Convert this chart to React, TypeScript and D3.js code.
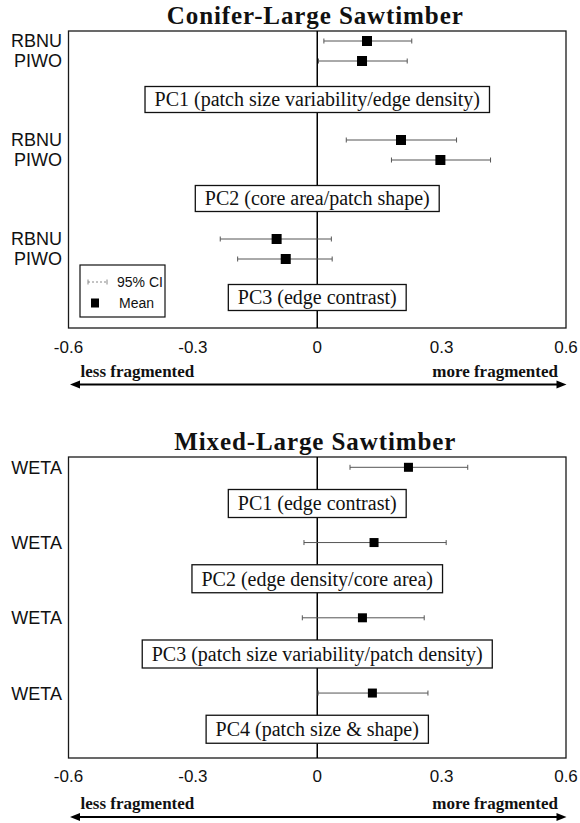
import React, { useEffect, useRef } from "react";
import * as d3 from "d3";

// ---------- data ----------
const tickValues = [-0.6, -0.3, 0, 0.3, 0.6];
const tickLabels = ["-0.6", "-0.3", "0", "0.3", "0.6"];

const coniferTitle = "Conifer-Large Sawtimber";
const coniferComponents = [
  "PC1 (patch size variability/edge density)",
  "PC2 (core area/patch shape)",
  "PC3 (edge contrast)",
];
const coniferSpecies = ["RBNU", "PIWO"];
// [component][species]
const coniferMean = [
  [0.12, 0.108],
  [0.202, 0.297],
  [-0.098, -0.076],
];
const coniferLow = [
  [0.016, 0.003],
  [0.07, 0.179],
  [-0.234, -0.192],
];
const coniferHigh = [
  [0.228, 0.217],
  [0.336, 0.418],
  [0.034, 0.036],
];

const mixedTitle = "Mixed-Large Sawtimber";
const mixedComponents = [
  "PC1 (edge contrast)",
  "PC2 (edge density/core area)",
  "PC3 (patch size variability/patch density)",
  "PC4 (patch size & shape)",
];
const mixedSpecies = ["WETA"];
const mixedMean = [[0.22], [0.137], [0.109], [0.133]];
const mixedLow = [[0.079], [-0.032], [-0.036], [0.002]];
const mixedHigh = [[0.363], [0.311], [0.258], [0.267]];

const legendLabels = ["95% CI", "Mean"];
const lessLabel = "less fragmented";
const moreLabel = "more fragmented";

const SERIF = "'Liberation Serif', 'Times New Roman', Times, serif";
const SANS = "'Liberation Sans', Arial, Helvetica, sans-serif";

type Panel = {
  title: string;
  components: string[];
  species: string[];
  mean: number[][];
  low: number[][];
  high: number[][];
  y0: number;
  y1: number;
  rowTop: number;
  rowStep: number;
  boxOffset: number;
  boxH: number;
  markSize: number;
  tickDy: number;
  arrowDy: number;
  legend: boolean;
};

export default function App() {
  const ref = useRef<SVGSVGElement | null>(null);

  useEffect(() => {
    const svg = d3.select(ref.current);
    svg.selectAll("*").remove();

    const x = d3.scaleLinear().domain([-0.6, 0.6]).range([68.5, 566]);

    const panels: Panel[] = [
      {
        title: coniferTitle,
        components: coniferComponents,
        species: coniferSpecies,
        mean: coniferMean,
        low: coniferLow,
        high: coniferHigh,
        y0: 31,
        y1: 328,
        rowTop: 10,
        rowStep: 20,
        boxOffset: 68.5,
        boxH: 26,
        markSize: 10,
        tickDy: 25,
        arrowDy: 56.5,
        legend: true,
      },
      {
        title: mixedTitle,
        components: mixedComponents,
        species: mixedSpecies,
        mean: mixedMean,
        low: mixedLow,
        high: mixedHigh,
        y0: 457,
        y1: 758,
        rowTop: 10.3,
        rowStep: 20,
        boxOffset: 46.5,
        boxH: 28,
        markSize: 9,
        tickDy: 24,
        arrowDy: 59,
        legend: false,
      },
    ];

    panels.forEach((p) => {
      const g = svg.append("g");
      const band = d3
        .scaleBand<string>()
        .domain(p.components)
        .range([p.y0, p.y1])
        .paddingInner(0)
        .paddingOuter(0);

      // title
      g.append("text")
        .attr("x", x(0) - 2)
        .attr("y", p.y0 - 7)
        .attr("text-anchor", "middle")
        .attr("font-family", SERIF)
        .attr("font-weight", "bold")
        .attr("font-size", 25)
        .attr("letter-spacing", 0.9)
        .attr("fill", "#111")
        .text(p.title);

      // frame
      g.append("rect")
        .attr("x", x(-0.6))
        .attr("y", p.y0)
        .attr("width", x(0.6) - x(-0.6))
        .attr("height", p.y1 - p.y0)
        .attr("fill", "none")
        .attr("stroke", "#1a1a1a")
        .attr("stroke-width", 1.3);

      // zero line
      g.append("line")
        .attr("x1", x(0))
        .attr("x2", x(0))
        .attr("y1", p.y0)
        .attr("y2", p.y1)
        .attr("stroke", "#000")
        .attr("stroke-width", 1.5);

      // component boxes
      p.components.forEach((c) => {
        const cy = (band(c) as number) + p.boxOffset;
        const bg = g.append("g");
        const rect = bg.append("rect");
        const t = bg
          .append("text")
          .attr("x", x(0))
          .attr("y", cy)
          .attr("dy", "0.34em")
          .attr("text-anchor", "middle")
          .attr("font-family", SERIF)
          .attr("font-size", 20)
          .attr("fill", "#111")
          .text(c);
        const w = (t.node() as SVGTextElement).getComputedTextLength() + 19;
        rect
          .attr("x", x(0) - w / 2)
          .attr("y", cy - p.boxH / 2)
          .attr("width", w)
          .attr("height", p.boxH)
          .attr("fill", "#fff")
          .attr("stroke", "#111")
          .attr("stroke-width", 1.3);
      });

      // species rows
      p.components.forEach((c, ci) => {
        p.species.forEach((s, si) => {
          const y = (band(c) as number) + p.rowTop + si * p.rowStep;
          g.append("text")
            .attr("x", 62)
            .attr("y", y)
            .attr("dy", "0.36em")
            .attr("text-anchor", "end")
            .attr("font-family", SANS)
            .attr("font-size", 18)
            .attr("fill", "#111")
            .text(s);
          const lo = p.low[ci][si];
          const hi = p.high[ci][si];
          const m = p.mean[ci][si];
          g.append("line")
            .attr("x1", x(lo))
            .attr("x2", x(hi))
            .attr("y1", y)
            .attr("y2", y)
            .attr("stroke", "#555")
            .attr("stroke-width", 1);
          [lo, hi].forEach((v) => {
            g.append("line")
              .attr("x1", x(v))
              .attr("x2", x(v))
              .attr("y1", y - 2.5)
              .attr("y2", y + 2.5)
              .attr("stroke", "#555")
              .attr("stroke-width", 1);
          });
          g.append("rect")
            .attr("x", x(m) - p.markSize / 2)
            .attr("y", y - p.markSize / 2)
            .attr("width", p.markSize)
            .attr("height", p.markSize)
            .attr("fill", "#000");
        });
      });

      // tick labels
      tickValues.forEach((v, i) => {
        g.append("text")
          .attr("x", x(v))
          .attr("y", p.y1 + p.tickDy)
          .attr("text-anchor", "middle")
          .attr("font-family", SANS)
          .attr("font-size", 17)
          .attr("fill", "#111")
          .text(tickLabels[i]);
      });

      // arrow
      const ay = p.y1 + p.arrowDy;
      const ax0 = x(-0.6) + 1.5;
      const ax1 = x(0.6) + 0.5;
      g.append("line")
        .attr("x1", ax0 + 6)
        .attr("x2", ax1 - 6)
        .attr("y1", ay)
        .attr("y2", ay)
        .attr("stroke", "#000")
        .attr("stroke-width", 2);
      g.append("path")
        .attr("d", `M${ax0},${ay} L${ax0 + 10},${ay - 4} L${ax0 + 10},${ay + 4} Z`)
        .attr("fill", "#000");
      g.append("path")
        .attr("d", `M${ax1},${ay} L${ax1 - 10},${ay - 4} L${ax1 - 10},${ay + 4} Z`)
        .attr("fill", "#000");
      g.append("text")
        .attr("x", x(-0.6) + 12)
        .attr("y", ay - 8)
        .attr("font-family", SERIF)
        .attr("font-weight", "bold")
        .attr("font-size", 17)
        .attr("fill", "#111")
        .text(lessLabel);
      g.append("text")
        .attr("x", x(0.6) - 8)
        .attr("y", ay - 8)
        .attr("text-anchor", "end")
        .attr("font-family", SERIF)
        .attr("font-weight", "bold")
        .attr("font-size", 17)
        .attr("fill", "#111")
        .text(moreLabel);

      // legend
      if (p.legend) {
        const lx = 80;
        const ly = 265;
        const lg = g.append("g");
        lg.append("rect")
          .attr("x", lx)
          .attr("y", ly)
          .attr("width", 85)
          .attr("height", 52)
          .attr("fill", "#fff")
          .attr("stroke", "#111")
          .attr("stroke-width", 1.2);
        const cy1 = ly + 17;
        lg.append("line")
          .attr("x1", lx + 8)
          .attr("x2", lx + 27)
          .attr("y1", cy1)
          .attr("y2", cy1)
          .attr("stroke", "#888")
          .attr("stroke-width", 1)
          .attr("stroke-dasharray", "2,2");
        [lx + 8, lx + 27].forEach((xx) => {
          lg.append("line")
            .attr("x1", xx)
            .attr("x2", xx)
            .attr("y1", cy1 - 2.5)
            .attr("y2", cy1 + 2.5)
            .attr("stroke", "#888")
            .attr("stroke-width", 1);
        });
        lg.append("text")
          .attr("x", lx + 37)
          .attr("y", cy1)
          .attr("dy", "0.36em")
          .attr("font-family", SANS)
          .attr("font-size", 14)
          .attr("fill", "#111")
          .text(legendLabels[0]);
        const cy2 = ly + 38;
        lg.append("rect")
          .attr("x", lx + 15 - 4)
          .attr("y", cy2 - 4.5)
          .attr("width", 8)
          .attr("height", 9)
          .attr("fill", "#000");
        lg.append("text")
          .attr("x", lx + 39)
          .attr("y", cy2)
          .attr("dy", "0.36em")
          .attr("font-family", SANS)
          .attr("font-size", 14)
          .attr("fill", "#111")
          .text(legendLabels[1]);
      }
    });
  }, []);

  return (
    <div style={{ position: "absolute", left: 0, top: 0, background: "#fff" }}>
      <svg ref={ref} width={580} height={823} style={{ display: "block" }} />
    </div>
  );
}
